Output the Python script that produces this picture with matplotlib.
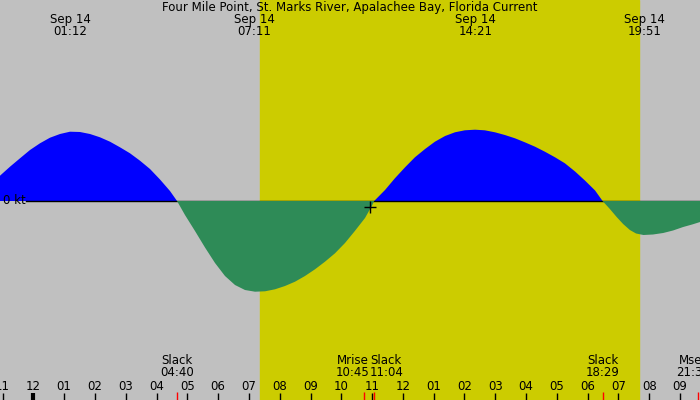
import numpy as np
import matplotlib
matplotlib.use('Agg')
import matplotlib.pyplot as plt

# Current prediction: hours after midnight Sep 14, knots
hours = [-1.081, -0.756, -0.432, -0.107, 0.217, 0.542, 0.867, 1.192, 1.516, 1.841,
         2.166, 2.49, 2.815, 3.14, 3.464, 3.789, 4.114, 4.438, 4.667,
         4.925, 5.25, 5.575, 5.9, 6.224, 6.549, 6.873, 7.198, 7.523, 7.847, 8.172,
         8.497, 8.821, 9.146, 9.47, 9.795, 10.12, 10.44, 10.77, 10.99, 11.067,
         11.42, 11.74, 12.07, 12.39, 12.72, 13.04, 13.37, 13.69, 14.01, 14.34, 14.66,
         14.99, 15.31, 15.64, 15.96, 16.29, 16.61, 16.94, 17.26, 17.59, 17.91, 18.24, 18.483,
         18.72, 18.94, 19.15, 19.37, 19.57, 19.81, 20.12, 20.45, 20.77, 21.1, 21.39, 21.65]
knots = [0.253, 0.343, 0.427, 0.51, 0.577, 0.633, 0.67, 0.693, 0.69, 0.67,
         0.637, 0.593, 0.537, 0.477, 0.403, 0.32, 0.215, 0.1, 0.0,
         -0.14, -0.30, -0.465, -0.62, -0.75, -0.84, -0.89, -0.907, -0.903, -0.883, -0.85,
         -0.807, -0.75, -0.683, -0.607, -0.523, -0.42, -0.3, -0.17, -0.05, 0.0,
         0.11, 0.227, 0.337, 0.437, 0.52, 0.593, 0.65, 0.687, 0.707, 0.713, 0.707,
         0.687, 0.66, 0.627, 0.587, 0.543, 0.493, 0.437, 0.377, 0.295, 0.205, 0.105, 0.0,
         -0.08, -0.16, -0.23, -0.29, -0.325, -0.34, -0.335, -0.32, -0.295, -0.26, -0.235, -0.21]

title = "Four Mile Point, St. Marks River, Apalachee Bay, Florida Current"
top_times = ["01:12", "07:11", "14:21", "19:51"]
top_date = "Sep 14"
sunrise = "07:22"
sunset = "19:40"
bottom_names = ["Slack", "Mrise", "Slack", "Slack", "Mset"]
bottom_times = ["04:40", "10:45", "11:04", "18:29", "21:35"]
now_time = "10:55"
now_knots = -0.063


def to_h(s):
    hh, mm = s.split(':')
    return int(hh) + int(mm) / 60.0


gray = '#c0c0c0'
yellow = '#cccc00'
fs = 8.5

plt.rcParams['font.family'] = ['DejaVu Sans']
fig = plt.figure(figsize=(7, 4), dpi=100)
ax = fig.add_axes([0, 0, 1, 1])
ppx = 30.8  # pixels per hour
x0 = -33.3 / ppx
x1 = (700 - 33.3) / ppx
ax.set_xlim(x0, x1)
ax.set_ylim(-1.99, 2.01)
ax.axis('off')
fig.patch.set_facecolor(gray)

ax.axvspan(to_h(sunrise), to_h(sunset), color=yellow, zorder=0)

h = np.array(hours)
k = np.array(knots)
ax.fill_between(h, 0, k, where=k >= 0, interpolate=True, color='#0000ff', lw=0, zorder=2)
ax.plot([x0 + 26 / ppx, x1], [0, 0], color='black', lw=1, zorder=3)
ax.fill_between(h, 0, k, where=k <= 0, interpolate=True, color='#2e8b57', lw=0, zorder=4)

ax.text(x0 + 3 / ppx, 0, "0 kt", fontsize=fs, va='center', ha='left', zorder=5)

ax.plot(to_h(now_time), now_knots, marker='+', color='black', ms=9, mew=1, zorder=6)


# title and top labels (placed in pixel rows from the top)
def ypx(p):
    return 2.01 - p / 100.0


ax.text((x0 + x1) / 2, ypx(8), title, fontsize=fs, ha='center', va='center')
for t in top_times:
    ax.text(to_h(t), ypx(19.5), top_date, fontsize=fs, ha='center', va='center')
    ax.text(to_h(t), ypx(31.5), t, fontsize=fs, ha='center', va='center')

# hour ticks
for hr in range(-1, 22):
    lab = "%02d" % ((hr - 1) % 12 + 1)
    ax.text(hr, ypx(386), lab, fontsize=fs, ha='center', va='center')
    ax.plot([hr, hr], [ypx(393), ypx(401)], color='black', lw=3 if hr == 0 else 1,
            solid_capstyle='butt', zorder=6)

# bottom event labels, nudged apart where they would overlap
pos = [to_h(t) for t in bottom_times]
lab_pos = list(pos)
min_gap = 1.1
for i in range(1, len(lab_pos)):
    if lab_pos[i] - lab_pos[i - 1] < min_gap:
        mid = (lab_pos[i] + lab_pos[i - 1]) / 2
        lab_pos[i - 1] = mid - min_gap / 2
        lab_pos[i] = mid + min_gap / 2
lab_pos = [min(lp, x1 - 0.23) for lp in lab_pos]
for name, t, p, lp in zip(bottom_names, bottom_times, pos, lab_pos):
    ax.text(lp, ypx(361), name, fontsize=fs, ha='center', va='center')
    ax.text(lp, ypx(373), t, fontsize=fs, ha='center', va='center')
    ax.plot([p, p], [ypx(392), ypx(401)], color='red', lw=1, solid_capstyle='butt', zorder=7)

fig.savefig('out.png', dpi=100, facecolor=gray)
